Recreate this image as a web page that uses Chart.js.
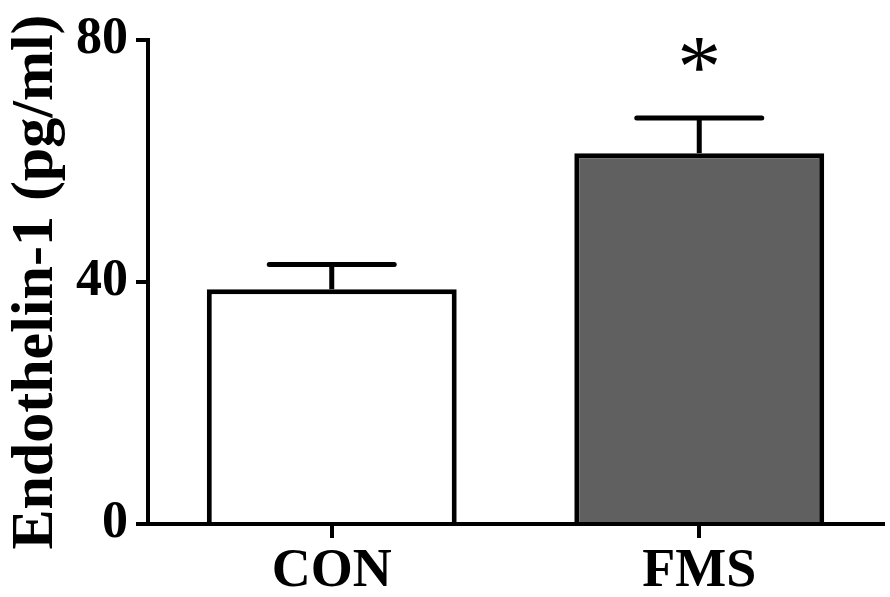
<!DOCTYPE html>
<html>
<head>
<meta charset="utf-8">
<script src="https://cdn.jsdelivr.net/npm/chart.js@4"></script>
<style>
html,body{margin:0;padding:0;background:#fff;}
#wrap{width:890px;height:597px;position:relative;}
</style>
</head>
<body>
<div id="wrap"><canvas id="c" width="890" height="597"></canvas></div>
<script>
const categories = ['CON', 'FMS'];
const means = [38.8, 61.3];
const sem = [4.1, 5.8];
const significance = ['', '*'];
const yTicks = [0, 40, 80];
const barColors = ['#ffffff', '#606060'];

const FONT = "'Liberation Serif', 'Times New Roman', serif";

const errorBarPlugin = {
  id: 'errorBars',
  afterDatasetsDraw(chart) {
    const ctx = chart.ctx;
    const yScale = chart.scales.y;
    const meta = chart.getDatasetMeta(0);
    ctx.save();
    meta.data.forEach((bar, i) => {
      const topY = yScale.getPixelForValue(means[i] + sem[i]);
      const baseY = yScale.getPixelForValue(means[i]);
      const capHalf = bar.width * 0.25;
      ctx.strokeStyle = '#000';
      ctx.lineWidth = 5;
      ctx.lineCap = 'butt';
      ctx.beginPath();
      ctx.moveTo(bar.x, baseY);
      ctx.lineTo(bar.x, topY);
      ctx.stroke();
      ctx.lineCap = 'round';
      ctx.beginPath();
      ctx.moveTo(bar.x - capHalf, topY);
      ctx.lineTo(bar.x + capHalf, topY);
      ctx.stroke();
      if (significance[i]) {
        ctx.fillStyle = '#000';
        ctx.font = "88px " + FONT;
        ctx.textAlign = 'center';
        ctx.textBaseline = 'alphabetic';
        ctx.fillText(significance[i], bar.x, topY - 22);
      }
    });
    ctx.restore();
  }
};

new Chart(document.getElementById('c'), {
  type: 'bar',
  data: {
    labels: categories,
    datasets: [{
      data: means,
      backgroundColor: barColors,
      borderColor: '#000',
      borderWidth: 5,
      borderSkipped: 'bottom',
      barPercentage: 0.68,
      categoryPercentage: 1.0
    }]
  },
  options: {
    responsive: false,
    animation: false,
    devicePixelRatio: 1,
    layout: { padding: { top: 40, right: 7, left: 0, bottom: 0 } },
    plugins: { legend: { display: false }, tooltip: { enabled: false } },
    scales: {
      x: {
        grid: { offset: false, drawOnChartArea: false, drawTicks: true, tickLength: 14, color: '#000', lineWidth: 4 },
        border: { display: true, color: '#000', width: 4 },
        ticks: { color: '#000', font: { family: FONT, size: 54, weight: 'bold' }, padding: 2 },
        afterFit(s) { s.height = 73; }
      },
      y: {
        min: 0, max: 80,
        afterBuildTicks(s) { s.ticks = yTicks.map(v => ({ value: v })); },
        grid: { drawOnChartArea: false, drawTicks: true, tickLength: 12, color: '#000', lineWidth: 4 },
        border: { display: true, color: '#000', width: 4 },
        ticks: { color: '#000', font: { family: FONT, size: 52, weight: 'bold' }, padding: 8 },
        title: { display: true, text: 'Endothelin-1 (pg/ml)', color: '#000', font: { family: FONT, size: 60, weight: 'bold' }, padding: 0 },
        afterFit(s) { s.width = 148; }
      }
    }
  },
  plugins: [errorBarPlugin]
});
</script>
</body>
</html>
